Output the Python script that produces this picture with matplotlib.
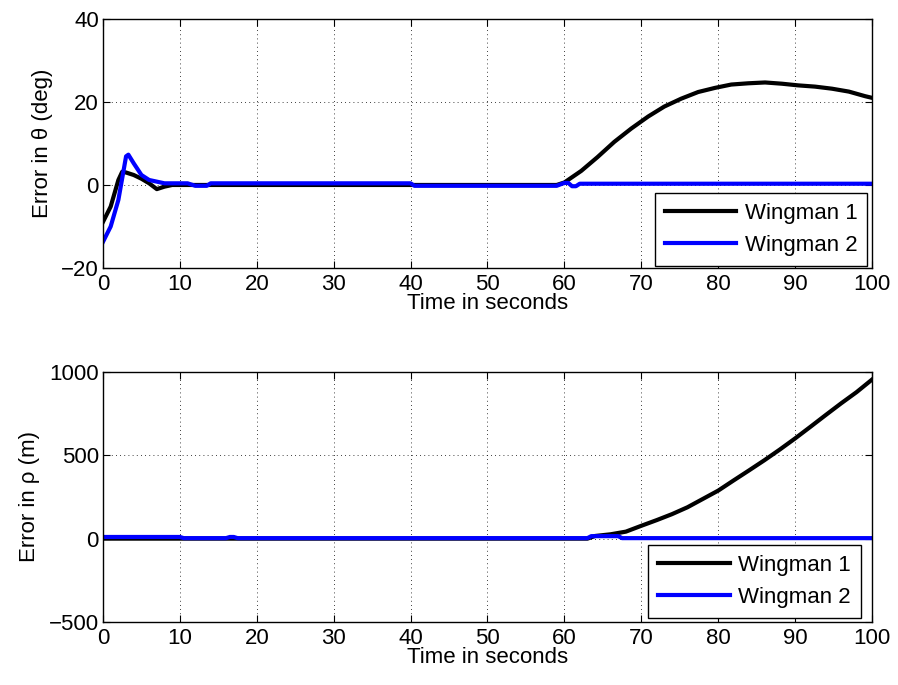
import matplotlib
matplotlib.use("Agg")
import matplotlib.pyplot as plt

plt.rcParams['font.family'] = ['Liberation Sans', 'DejaVu Sans']
plt.rcParams['font.size'] = 16

# theta error (deg)
t_theta_w1 = [0, 1, 2, 2.5, 3, 4, 5, 6, 7, 8, 9, 14, 40, 59, 60, 62.2, 64.3, 66.5, 68.7,
              70.9, 73, 75.2, 77.4, 79.6, 81.7, 83.9, 86.1, 88.3, 90.4, 92.6, 94.8, 97, 99.1, 100]
theta_w1 = [-8.9, -5.2, 1.2, 3.2, 3.0, 2.4, 1.5, 0.4, -1.0, -0.4, 0, 0, 0, 0, 0.6, 3.4, 6.7, 10.4, 13.6,
            16.5, 18.9, 20.8, 22.4, 23.4, 24.2, 24.5, 24.7, 24.4, 24.0, 23.7, 23.2, 22.5, 21.4, 21.0]
t_theta_w2 = [0, 1, 2, 3, 3.3, 4, 5, 6, 7, 8, 10, 11, 12, 13.5, 14, 40, 40.5, 59, 60, 60.5,
              61, 61.5, 62, 100]
theta_w2 = [-13.7, -10, -3.6, 6.9, 7.3, 5.2, 2.4, 1.2, 0.8, 0.4, 0.4, 0.4, -0.2, -0.2, 0.4, 0.4,
            -0.2, -0.2, 0.5, 0.5, -0.3, -0.3, 0.3, 0.3]

# rho error (m)
t_rho_w1 = [0, 63, 64, 66, 68, 70, 72, 74, 76, 78, 80, 82, 84, 86, 88, 90, 92, 94, 96, 98, 100]
rho_w1 = [0, 0, 16, 26, 42, 77, 111, 147, 188, 238, 288, 349, 409, 470, 534, 601, 671, 742,
          812, 879, 954]
t_rho_w2 = [0, 10, 10.5, 16, 16.5, 17, 17.5, 63, 63.5, 67, 67.5, 100]
rho_w2 = [10, 10, 3, 3, 10, 10, 3, 3, 15, 15, 3, 3]

fig = plt.figure(figsize=(8.98, 6.85), dpi=100)
ax1 = fig.add_axes([0.1147, 0.6088, 0.8563, 0.3635])
ax2 = fig.add_axes([0.1147, 0.0920, 0.8563, 0.3650])


def style(ax, ylim, yticks, ylabel):
    ax.set_xlim(0, 100)
    ax.set_ylim(*ylim)
    ax.set_xticks(range(0, 101, 10))
    ax.set_yticks(yticks)
    ax.set_xlabel('Time in seconds', labelpad=-1)
    ax.set_ylabel(ylabel, labelpad=6)
    ax.grid(True, color='k', linestyle=(0, (1, 4)), linewidth=0.6)
    ax.tick_params(direction='in', top=True, right=True, length=5, width=0.8)
    ax.tick_params(axis='x', pad=4)
    ax.tick_params(axis='y', pad=3)
    for s in ax.spines.values():
        s.set_linewidth(1.0)


ax1.plot(t_theta_w1, theta_w1, color='k', lw=3, label='Wingman 1')
ax1.plot(t_theta_w2, theta_w2, color='#0000ff', lw=3, label='Wingman 2')
style(ax1, (-20, 40), [-20, 0, 20, 40], 'Error in θ (deg)')
leg1 = ax1.legend(loc='lower right', bbox_to_anchor=(0.994, 0.008), borderaxespad=0,
                  fancybox=False, framealpha=1, edgecolor='k', handlelength=3.2,
                  borderpad=0.45, labelspacing=0.5, handletextpad=0.4)
leg1.get_frame().set_linewidth(1.0)

ax2.plot(t_rho_w1, rho_w1, color='k', lw=3, label='Wingman 1')
ax2.plot(t_rho_w2, rho_w2, color='#0000ff', lw=3, label='Wingman 2')
style(ax2, (-500, 1000), [-500, 0, 500, 1000], 'Error in ρ (m)')
leg2 = ax2.legend(loc='lower right', bbox_to_anchor=(0.986, 0.016), borderaxespad=0,
                  fancybox=False, framealpha=1, edgecolor='k', handlelength=3.2,
                  borderpad=0.45, labelspacing=0.5, handletextpad=0.4)
leg2.get_frame().set_linewidth(1.0)

fig.savefig('out.png', dpi=100)
